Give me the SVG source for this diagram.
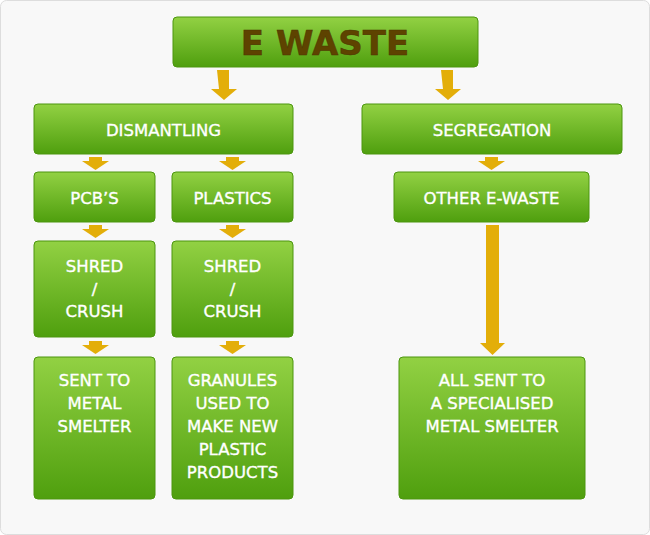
<svg xmlns="http://www.w3.org/2000/svg" width="650" height="535" viewBox="0 0 650 535">
<defs>
<linearGradient id="g" x1="0" y1="0" x2="0" y2="1">
<stop offset="0" stop-color="#92d143"/>
<stop offset="1" stop-color="#4f9f0e"/>
</linearGradient>
<style>
.box{fill:url(#g);stroke:#4c960f;stroke-width:1}
.t{font-family:"DejaVu Sans","Open Sans",sans-serif;font-size:16.5px;fill:#ffffff;stroke:#ffffff;stroke-width:0.35;text-anchor:middle}
.title{font-family:"DejaVu Sans","Open Sans",sans-serif;font-size:34px;font-weight:bold;fill:#5e4300;text-anchor:middle;stroke:#4a3300;stroke-width:0.5}
.arr{fill:#e3ae09}
</style>
</defs>
<rect x="0.5" y="0.5" width="649" height="534" rx="6" fill="#f8f8f8" stroke="#dddddd"/>
<g id="connectors">
<path class="arr" d="M217,70h12v19h8l-13,11l-13,-11h8z"/>
<path class="arr" d="M441,70h12v19h8l-13,11l-13,-11h8z"/>
<path class="arr" d="M89,157h13v4h7l-13.5,9l-13.5,-9h7z"/>
<path class="arr" d="M226,157h13v4h7l-13.5,9l-13.5,-9h7z"/>
<path class="arr" d="M485,157h13v4h7l-13.5,9l-13.5,-9h7z"/>
<path class="arr" d="M89,225h13v4h7l-13.5,9l-13.5,-9h7z"/>
<path class="arr" d="M226,225h13v4h7l-13.5,9l-13.5,-9h7z"/>
<path class="arr" d="M89,341h13v4h7l-13.5,9l-13.5,-9h7z"/>
<path class="arr" d="M226,341h13v4h7l-13.5,9l-13.5,-9h7z"/>
<path class="arr" d="M486,225h13v118h6l-12.5,12l-12.5,-12h6z"/>
</g>
<g id="ewaste">
<rect class="box" x="173" y="17" width="305" height="50" rx="4"/>
<text class="title" x="325" y="55">E WASTE</text>
</g>
<g id="dismantling">
<rect class="box" x="34" y="104" width="259" height="50" rx="4"/>
<text class="t" x="163.5" y="136">DISMANTLING</text>
</g>
<g id="segregation">
<rect class="box" x="362" y="104" width="260" height="50" rx="4"/>
<text class="t" x="492" y="136">SEGREGATION</text>
</g>
<g id="pcbs">
<rect class="box" x="34" y="172" width="121" height="50" rx="4"/>
<text class="t" x="94.5" y="204">PCB’S</text>
</g>
<g id="plastics">
<rect class="box" x="172" y="172" width="121" height="50" rx="4"/>
<text class="t" x="232.5" y="204">PLASTICS</text>
</g>
<g id="other">
<rect class="box" x="394" y="172" width="195" height="50" rx="4"/>
<text class="t" x="491.5" y="204">OTHER E-WASTE</text>
</g>
<g id="shred1">
<rect class="box" x="34" y="241" width="121" height="96" rx="4"/>
<text class="t" x="94.5" y="272">SHRED</text>
<text class="t" x="94.5" y="294.5">/</text>
<text class="t" x="94.5" y="317">CRUSH</text>
</g>
<g id="shred2">
<rect class="box" x="172" y="241" width="121" height="96" rx="4"/>
<text class="t" x="232.5" y="272">SHRED</text>
<text class="t" x="232.5" y="294.5">/</text>
<text class="t" x="232.5" y="317">CRUSH</text>
</g>
<g id="sent">
<rect class="box" x="34" y="357" width="121" height="142" rx="4"/>
<text class="t" x="94.5" y="386">SENT TO</text>
<text class="t" x="94.5" y="409">METAL</text>
<text class="t" x="94.5" y="432">SMELTER</text>
</g>
<g id="granules">
<rect class="box" x="172" y="357" width="121" height="142" rx="4"/>
<text class="t" x="232.5" y="386">GRANULES</text>
<text class="t" x="232.5" y="409">USED TO</text>
<text class="t" x="232.5" y="432">MAKE NEW</text>
<text class="t" x="232.5" y="455">PLASTIC</text>
<text class="t" x="232.5" y="478">PRODUCTS</text>
</g>
<g id="allsent">
<rect class="box" x="399" y="357" width="186" height="142" rx="4"/>
<text class="t" x="492" y="386">ALL SENT TO</text>
<text class="t" x="492" y="409">A SPECIALISED</text>
<text class="t" x="492" y="432">METAL SMELTER</text>
</g>
</svg>
